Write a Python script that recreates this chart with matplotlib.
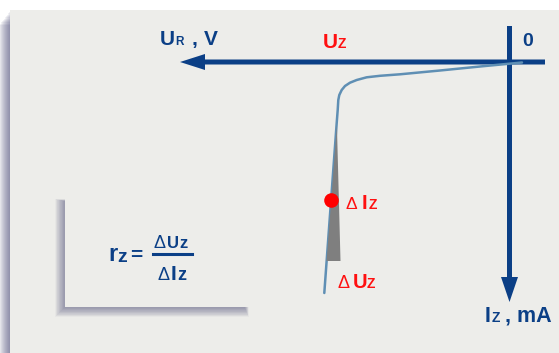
import matplotlib
matplotlib.use("Agg")
import matplotlib.pyplot as plt
from matplotlib.patches import Rectangle

# zener characteristic, in chart units (u: voltage to the left is negative, i: current downwards)
curve_u = [12.5, -29.5, -69.5, -109.5, -129.5, -142.8, -152.8, -159.5, -164.5,
           -167.8, -170.2, -171.2, -171.8, -172.8, -185.2]
curve_i = [0.5, 4.5, 8.5, 12.3, 13.8, 15.3, 18.0, 20.7, 24.0,
           28.0, 33.0, 38.0, 48.0, 61.0, 231.0]

# shaded delta triangle along the steep part (apex, bottom right, bottom left)
tri_u = [-172.6, -169.0, -182.9]
tri_i = [63, 199, 199]

# working point
point_u = [-178.5]
point_i = [138]

# axis extents
u_axis = (35.5, -329.5)
i_axis = (-36, 240)

BLUE = "#0b3f86"
RED = "#ff1010"
PANEL = "#ededea"
CURVE = "#5f8fb4"
FONT = ["Liberation Sans", "DejaVu Sans"]

OX, OY = 509.5, 62  # pixel position of the origin

fig = plt.figure(figsize=(5.59, 3.53), dpi=100)
fig.patch.set_facecolor("white")
ax = fig.add_axes([0, 0, 1, 1])
ax.set_xlim(-OX, 559 - OX)
ax.set_ylim(353 - OY, -OY)
ax.axis("off")


def rect(x0, y0, x1, y1, **kw):
    ax.add_patch(Rectangle((x0 - OX, y0 - OY), x1 - x0, y1 - y0, **kw))


def txt(px, py, s, size, color=BLUE, weight="bold"):
    ax.text(px - OX, py - OY, s, fontsize=size, color=color, fontweight=weight,
            ha="left", va="baseline", family=FONT, zorder=10)


# panel with a soft shadow on its left
for k in range(11):
    rect(10 - (k + 1), 12 + 1.3 * k, 10, 353, fc="#4a4a78", ec="none", alpha=0.075, zorder=0)
rect(10, 10, 560, 354, fc=PANEL, ec="none", zorder=1)

# formula box with a blurred shadow to the lower left
for k in range(16):
    d = 0.6 * k
    rect(64 - d, 201 - 0.2 * d, 245 + 0.4 * d, 308 + d, fc="#40406e", ec="none",
         alpha=0.035, zorder=1.5)
rect(65, 193, 250, 307, fc=PANEL, ec="none", zorder=2)

# axes arrows
ax.arrow(u_axis[0], 0, u_axis[1] - u_axis[0], 0, width=5, head_width=16, head_length=25,
         length_includes_head=True, fc=BLUE, ec="none", zorder=3)
ax.arrow(0, i_axis[0], 0, i_axis[1] - i_axis[0], width=5, head_width=17, head_length=25,
         length_includes_head=True, fc=BLUE, ec="none", zorder=3)

# curve, delta triangle and working point
ax.plot(curve_u, curve_i, color=CURVE, lw=1.8, solid_capstyle="round", zorder=4)
ax.fill(tri_u, tri_i, color="#7f7f7f", lw=0, zorder=5)
ax.plot(point_u, point_i, "o", color="#ff0000", ms=10.5, mec="none", zorder=6)

# axis labels
txt(160, 45, "U", 15)
txt(175, 45, "R", 8.5)
txt(192, 45, ",", 15)
txt(204, 45, "V", 15)
txt(522, 46, "0", 14)
txt(323, 48, "U", 15, RED)
txt(338, 48, "Z", 10, RED)
txt(485, 321.5, "I", 15.5)
txt(492, 321.5, "Z", 10)
txt(505, 321.5, ", mA", 15.5)

# delta labels
txt(346, 209, "\u0394", 12.5, RED, "normal")
txt(362, 209, "I", 14.5, RED)
txt(369, 209, "Z", 10, RED)
txt(337, 288, "\u0394", 13, RED, "normal")
txt(353, 288, "U", 14.5, RED)
txt(367, 288, "Z", 10, RED)

# formula r_Z = dU_Z / dI_Z
txt(108, 261, "r", 17)
txt(117, 262, "z", 14)
txt(130, 261, "=", 15)
ax.plot([153 - OX, 192 - OX], [253.5 - OY, 253.5 - OY], color=BLUE, lw=2.2, zorder=10)
txt(153, 247.5, "\u0394", 13, BLUE, "normal")
txt(167, 247.5, "U", 12)
txt(179, 247.5, "z", 12)
txt(158, 280, "\u0394", 13, BLUE, "normal")
txt(171, 280, "I", 15)
txt(177, 280, "z", 13)

fig.savefig("out.png", dpi=100)
